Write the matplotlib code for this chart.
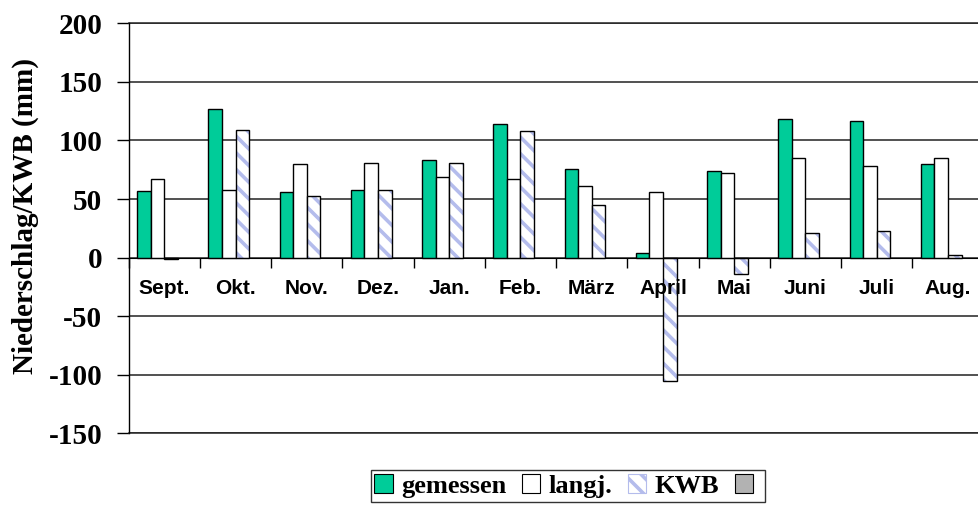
"""
Niederschlag und klimatische Wasserbilanz je Monat.
"""

import matplotlib
matplotlib.use('Agg')
import matplotlib.pyplot as plt
from matplotlib.patches import Patch
import numpy as np

# Monatswerte (mm)
months = ['Sept.', 'Okt.', 'Nov.', 'Dez.', 'Jan.', 'Feb.',
          'März', 'April', 'Mai', 'Juni', 'Juli', 'Aug.']
gemessen = [57, 127, 56, 58, 83, 114, 76, 4, 74, 118, 117, 80]
langj = [67, 58, 80, 81, 69, 67, 61, 56, 72, 85, 78, 85]
kwb = [-1, 109, 53, 58, 81, 108, 45, -105, -14, 21, 23, 2]
y_ticks = [-150, -100, -50, 0, 50, 100, 150, 200]

GREEN = '#00CC99'
HATCH_COL = '#B4BCEC'
GREY = '#B2B2B2'

SERIF = ['Liberation Serif', 'DejaVu Serif']
SANS = ['Liberation Sans', 'DejaVu Sans']

plt.rcParams['hatch.linewidth'] = 2.6

fig = plt.figure(figsize=(9.79, 5.09), dpi=100)
ax = fig.add_axes([0.1314, 0.1487, 0.8733, 0.8055])

x = np.arange(len(months))
w = 0.19

ax.bar(x - 1.5 * w, gemessen, w, color=GREEN, edgecolor='black', linewidth=1.0, zorder=3)
ax.bar(x - 0.5 * w, langj, w, color='white', edgecolor='black', linewidth=1.0, zorder=3)
ax.bar(x + 0.5 * w, kwb, w, color='white', edgecolor=HATCH_COL, linewidth=0,
       hatch='\\\\', zorder=3)
ax.bar(x + 0.5 * w, kwb, w, fill=False, edgecolor='black', linewidth=1.0, zorder=4)

ax.set_xlim(-0.5, len(months) - 0.5)
ax.set_ylim(-150, 200)

ax.set_yticks(y_ticks)
ax.set_yticklabels([str(v) for v in y_ticks], fontfamily=SERIF,
                   fontweight='bold', fontsize=21)
ax.tick_params(axis='y', direction='out', length=9, width=1.0, pad=10)
ax.yaxis.grid(True, color='#222222', linewidth=1.1, zorder=0)
ax.set_axisbelow(True)

# x-Achse auf der Nulllinie
for s in ['top', 'right']:
    ax.spines[s].set_visible(False)
ax.spines['bottom'].set_position(('data', 0))
ax.spines['bottom'].set_zorder(5)
ax.spines['left'].set_linewidth(1.0)
ax.axhline(-150, color='#222222', linewidth=1.1, clip_on=False, zorder=1)
ax.axhline(200, color='#222222', linewidth=1.1, clip_on=False, zorder=1)

ax.set_xticks(np.arange(len(months) + 1) - 0.5)
ax.set_xticklabels([])
ax.tick_params(axis='x', which='major', direction='out', length=7, width=1.0)

# Monatsnamen unter der Nulllinie, über den Balken
for xi, name in zip(x, months):
    ax.annotate(name, (xi, 0), xytext=(0, -26.2), textcoords='offset points',
                ha='center', va='baseline', fontfamily=SANS, fontweight='bold',
                fontsize=15, zorder=6)

fig.text(25 / 979, 1 - 216 / 509, 'Niederschlag/KWB (mm)', rotation=90,
         ha='center', va='center', fontfamily=SERIF, fontweight='bold', fontsize=21)

handles = [
    Patch(facecolor=GREEN, edgecolor='black', linewidth=0.8),
    Patch(facecolor='white', edgecolor='black', linewidth=0.8),
    Patch(facecolor='white', edgecolor=HATCH_COL, hatch='\\\\', linewidth=0.8),
    Patch(facecolor=GREY, edgecolor='black', linewidth=0.8),
]
leg = fig.legend(handles, ['gemessen', 'langj.', 'KWB', ''], loc='center',
                 bbox_to_anchor=(0.58, 0.045), ncol=4, frameon=True, fancybox=False,
                 prop={'family': SERIF, 'weight': 'bold', 'size': 19},
                 handlelength=0.7, handleheight=0.7, handletextpad=0.3,
                 columnspacing=0.6, borderpad=0.15, borderaxespad=0)
leg.get_frame().set_edgecolor('black')
leg.get_frame().set_linewidth(1.0)

fig.savefig('out.png', dpi=100)
